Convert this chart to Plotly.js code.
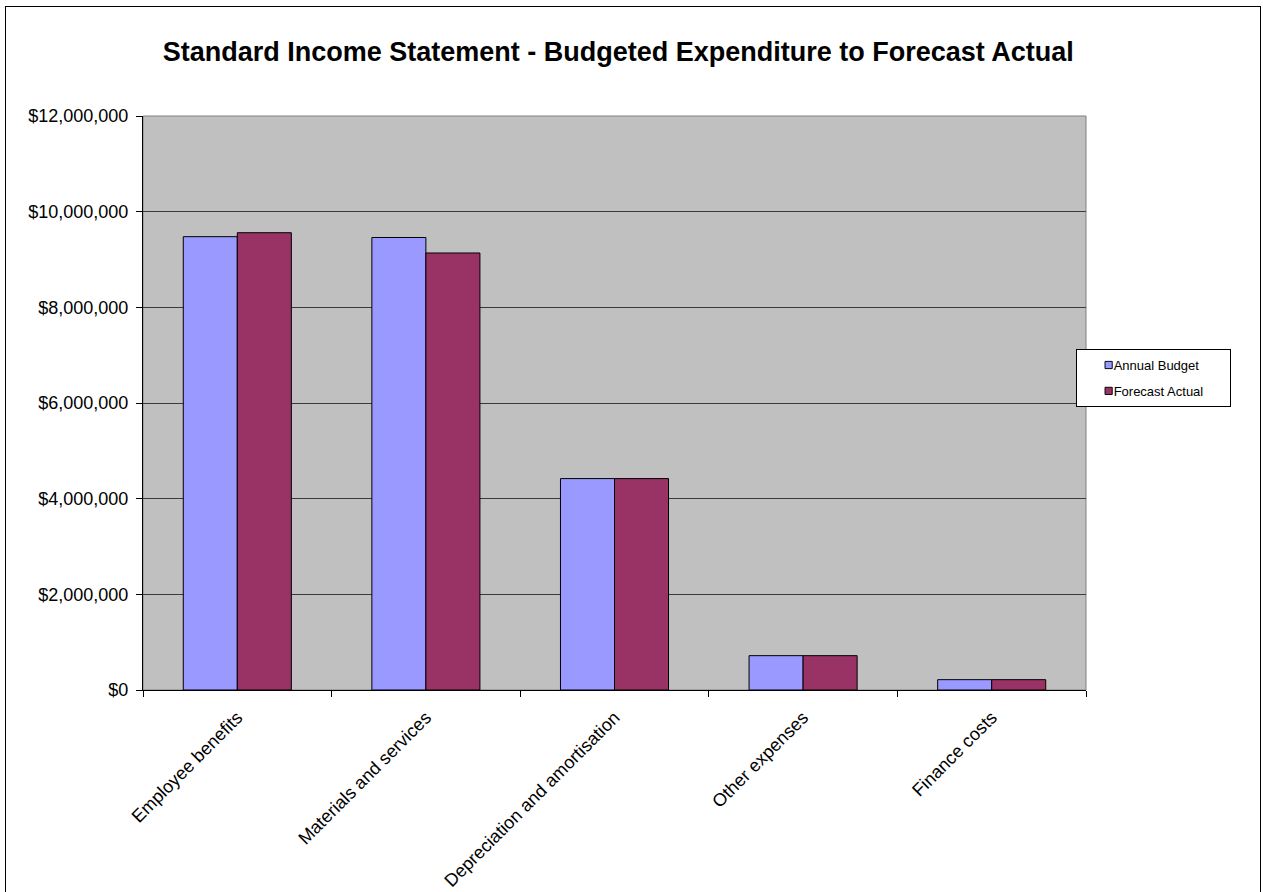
<!DOCTYPE html>
<html>
<head>
<meta charset="utf-8">
<script src="https://cdn.plot.ly/plotly-3.0.1.min.js"></script>
<style>
  html, body { margin: 0; padding: 0; background: #fff; overflow: hidden; }
  #wrap { position: relative; width: 1263px; height: 892px; }
  #chart { width: 1263px; height: 892px; }
  #frame { position: absolute; left: 5px; top: 6px; width: 1256px; height: 900px;
           border: 1px solid #000; pointer-events: none; box-sizing: border-box; }
</style>
</head>
<body>
<div id="wrap">
  <div id="chart"></div>
  <div id="frame"></div>
</div>
<script>
const categories = ["Employee benefits", "Materials and services", "Depreciation and amortisation", "Other expenses", "Finance costs"];
const annualBudget = [9477000, 9460000, 4420000, 718000, 216000];
const forecastActual = [9560000, 9136000, 4420000, 718000, 216000];
const yTickValues = [0, 2000000, 4000000, 6000000, 8000000, 10000000, 12000000];
const yTickLabels = ["$0", "$2,000,000", "$4,000,000", "$6,000,000", "$8,000,000", "$10,000,000", "$12,000,000"];
const seriesNames = ["Annual Budget", "Forecast Actual"];

const font = "Liberation Sans, Arial, sans-serif";
const pad = "\u00a0".repeat(5);

const traces = [
  {
    type: "bar", name: seriesNames[0] + pad, x: categories, y: annualBudget,
    marker: { color: "#9999FF", line: { color: "#000", width: 1 } },
    legendgroup: "a", hoverinfo: "x+y"
  },
  {
    type: "bar", name: seriesNames[1] + pad, x: categories, y: forecastActual,
    marker: { color: "#993366", line: { color: "#000", width: 1 } },
    legendgroup: "b", hoverinfo: "x+y"
  }
];

const layout = {
  width: 1263, height: 892,
  margin: { l: 143, r: 177, t: 116, b: 202 },
  paper_bgcolor: "#fff",
  plot_bgcolor: "#C0C0C0",
  font: { family: font, color: "#000" },
  title: {
    text: "<b>Standard Income Statement - Budgeted Expenditure to Forecast Actual</b>",
    font: { family: font, size: 27, color: "#000" },
    x: 0.504, xref: "paper", xanchor: "center",
    y: 0.942, yref: "container", yanchor: "middle"
  },
  barmode: "group",
  bargap: 0.427,
  bargroupgap: 0,
  showlegend: true,
  legend: {
    x: 0.989, xanchor: "left", y: 0.594, yanchor: "top",
    bgcolor: "#fff", bordercolor: "#000", borderwidth: 1,
    font: { family: font, size: 13, color: "#000" },
    traceorder: "grouped", tracegroupgap: 6
  },
  xaxis: {
    type: "category",
    showline: true, linecolor: "#000", linewidth: 1,
    ticks: "outside", tickson: "boundaries", ticklen: 6, tickcolor: "#000",
    tickangle: -45, ticklabelstandoff: 9,
    tickfont: { family: font, size: 18, color: "#000" },
    showgrid: false, zeroline: false, fixedrange: true
  },
  yaxis: {
    range: [0, 12000000],
    tickmode: "array", tickvals: yTickValues, ticktext: yTickLabels,
    showline: true, linecolor: "#000", linewidth: 1,
    ticks: "outside", ticklen: 6, tickcolor: "#000", ticklabelstandoff: 4,
    tickfont: { family: font, size: 18, color: "#000" },
    showgrid: true, gridcolor: "#3a3a3a", gridwidth: 1,
    zeroline: false, fixedrange: true
  },
  shapes: [
    { type: "rect", xref: "paper", yref: "paper", x0: 0, x1: 1, y0: 0, y1: 1,
      line: { color: "#808080", width: 1 }, layer: "below" }
  ]
};

Plotly.newPlot("chart", traces, layout, { staticPlot: true, displayModeBar: false }).then(function () {
  document.querySelectorAll("#chart .legendpoints path").forEach(function (p) {
    const t = p.getAttribute("transform") || "";
    p.setAttribute("transform", t + " translate(12,0) scale(0.6)");
    p.style.strokeWidth = "1.6px";
    p.style.stroke = "#000";
  });
  document.querySelectorAll("#chart .legendtext").forEach(function (t) {
    t.setAttribute("x", 37);
  });
});
</script>
</body>
</html>
